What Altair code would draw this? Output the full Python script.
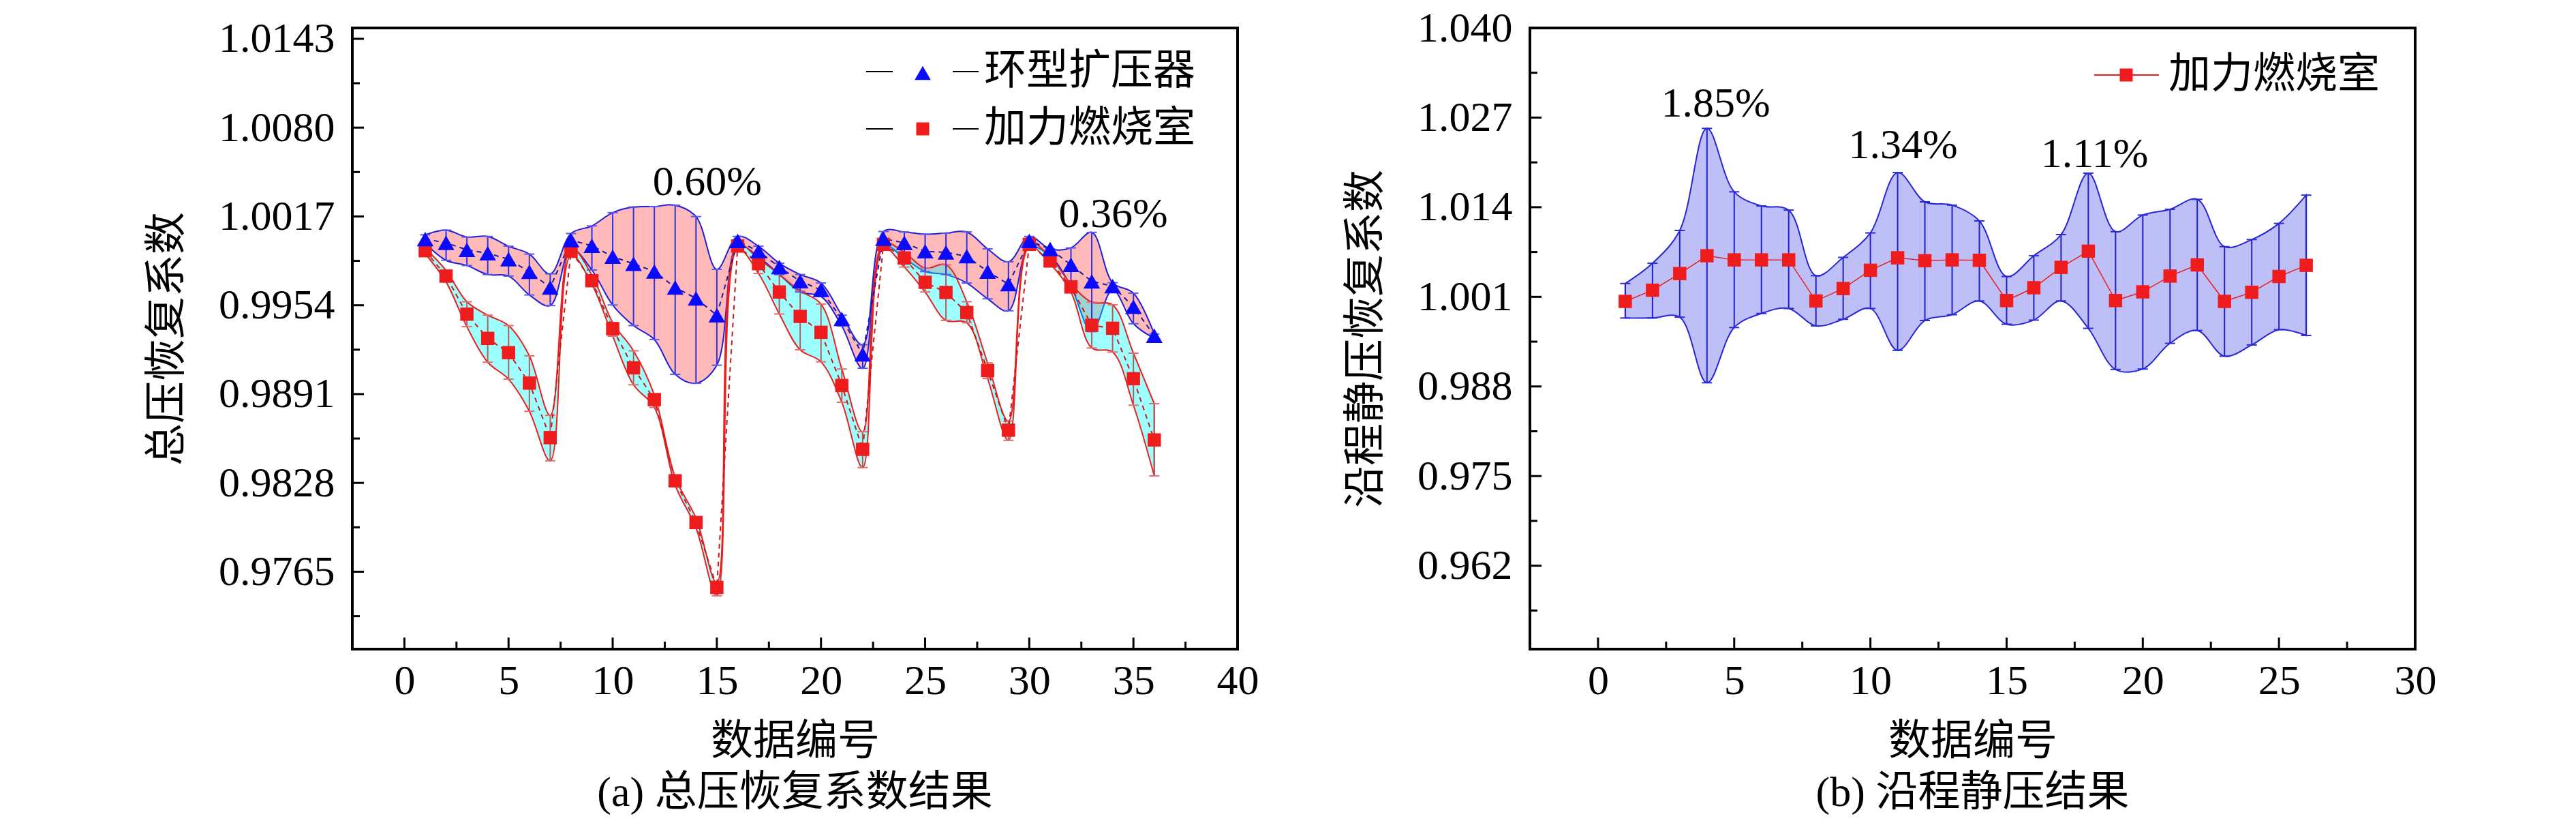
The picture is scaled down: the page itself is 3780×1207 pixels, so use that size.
import altair as alt
import pandas as pd

FONT = "Liberation Serif, Times New Roman, Noto Sans CJK SC"
FS = 62
W, H = 1299, 911

# ---- panel (a): total pressure recovery ----
idx_a = list(range(1, 37))
diffuser = [1.0001, 0.99983, 0.99933, 0.99909, 0.99867, 0.99777, 0.99666,
            1.00002, 0.99962, 0.99885, 0.99834, 0.99780, 0.99666, 0.99589, 0.99469,
            0.99996, 0.99923, 0.99811, 0.99711, 0.99649, 0.99443, 0.99192,
            1.00012, 0.99983, 0.99923, 0.99915, 0.99888, 0.99779, 0.99690,
            0.99996, 0.99939, 0.99827, 0.99710, 0.99676, 0.99530, 0.99324]
diffuser_hi = [1.0004, 1.00073, 1.00024, 1.00028, 0.99959, 0.99903, 0.99763,
               1.00049, 1.00103, 1.00197, 1.00237, 1.00240, 1.00250, 1.00169, 0.99795,
               1.00028, 0.99959, 0.99838, 0.99758, 0.99698, 0.99469, 0.99260,
               1.00063, 1.00060, 1.00044, 1.00052, 1.00060, 0.99940, 0.99848,
               1.00028, 0.99940, 0.99947, 1.00057, 0.99700, 0.99626, 0.99337]
diffuser_lo = [0.9998, 0.99859, 0.99822, 0.99758, 0.99747, 0.99613, 0.99538,
               0.99940, 0.99790, 0.99542, 0.99396, 0.99297, 0.99050, 0.98987, 0.99115,
               0.99964, 0.99883, 0.99758, 0.99634, 0.99602, 0.99393, 0.99093,
               0.99963, 0.99875, 0.99779, 0.99758, 0.99698, 0.99586, 0.99501,
               0.99955, 0.99890, 0.99674, 0.99353, 0.99650, 0.99409, 0.99305]
burner = [0.99927, 0.99747, 0.99477, 0.99305, 0.99204, 0.98988, 0.98601,
          0.99923, 0.99714, 0.99374, 0.99096, 0.98871, 0.98295, 0.97999, 0.97539,
          0.99960, 0.99835, 0.99634, 0.99461, 0.99348, 0.98971, 0.98518,
          0.99972, 0.99875, 0.99703, 0.99631, 0.99488, 0.99077, 0.98654,
          0.99972, 0.99854, 0.99670, 0.99398, 0.99377, 0.99019, 0.98585]
burner_hi = [0.99945, 0.99787, 0.99565, 0.99470, 0.99396, 0.99181, 0.98759,
             0.99945, 0.99755, 0.99417, 0.99217, 0.98903, 0.98320, 0.98030, 0.97570,
             0.99972, 0.99870, 0.99758, 0.99642, 0.99549, 0.99088, 0.98643,
             0.99980, 0.99915, 0.99803, 0.99827, 0.99565, 0.99131, 0.98718,
             0.99983, 0.99883, 0.99690, 0.99562, 0.99543, 0.99200, 0.98842]
burner_lo = [0.99905, 0.99706, 0.99388, 0.99136, 0.99016, 0.98788, 0.98437,
             0.99896, 0.99690, 0.99321, 0.98976, 0.98815, 0.98265, 0.97960, 0.97480,
             0.99940, 0.99766, 0.99478, 0.99224, 0.99139, 0.98852, 0.98389,
             0.99948, 0.99811, 0.99634, 0.99433, 0.99416, 0.99020, 0.98582,
             0.99955, 0.99835, 0.99634, 0.99237, 0.99208, 0.98831, 0.98330]

# ---- panel (b): static pressure along the afterburner ----
idx_b = list(range(1, 27))
static = [1.00034, 1.00196, 1.00437, 1.00696, 1.00636, 1.00636, 1.00636,
          1.0004, 1.0022, 1.00485, 1.00666, 1.00624, 1.00636, 1.0063,
          1.00046, 1.00232, 1.00527, 1.00762, 1.00046, 1.00172, 1.00401,
          1.00563, 1.00034, 1.00166, 1.00395, 1.00557]
static_hi = [1.00293, 1.00587, 1.01063, 1.02543, 1.01623, 1.01418, 1.01358,
             1.00407, 1.00672, 1.01027, 1.01902, 1.01478, 1.0143, 1.01201,
             1.00395, 1.00696, 1.01003, 1.01894, 1.01045, 1.01286, 1.0137,
             1.01514, 1.00828, 1.00931, 1.01165, 1.01575]
static_lo = [0.99793, 0.99793, 0.99805, 0.98854, 0.99655, 0.99859, 0.99931,
             0.99679, 0.99775, 0.99931, 0.99324, 0.99757, 0.99841, 1.0004,
             0.99703, 0.99763, 1.0004, 0.99643, 0.99047, 0.99053, 0.99426,
             0.99612, 0.99239, 0.99402, 0.99624, 0.9954]

# tick values and labels
yticks_a = [0.9765, 0.9828, 0.9891, 0.9954, 1.0017, 1.0080, 1.0143]
yticks_b = [0.962, 0.975, 0.988, 1.001, 1.014, 1.027, 1.040]
xticks_a = [0, 5, 10, 15, 20, 25, 30, 35, 40]
xticks_b = [0, 5, 10, 15, 20, 25, 30]

notes_a = ["0.60%", "0.36%"]
notes_a_x = [14.54, 34.03]
notes_a_y = [1.00414, 1.00189]
notes_b = ["1.85%", "1.34%", "1.11%"]
notes_b_x = [4.32, 11.2, 18.23]
notes_b_y = [1.02905, 1.02303, 1.0217]

legend_a = ["环型扩压器", "加力燃烧室"]
legend_b = ["加力燃烧室"]


def minors(ticks, lo, hi):
    step = ticks[1] - ticks[0]
    out = [t + step / 2 for t in ticks] + [ticks[0] - step / 2]
    return [v for v in out if lo < v < hi]


class Panel:
    """shared scales and axes for all layers of one panel"""

    def __init__(self, xdom, ydom, xt, yt, yfmt, ytitle):
        self.xdom, self.ydom, self.xt, self.yt = xdom, ydom, xt, yt
        self.xs = alt.Scale(domain=xdom, nice=False, zero=False)
        self.ys = alt.Scale(domain=ydom, nice=False, zero=False)
        self.ax = alt.Axis(values=xt, format="d", title="数据编号", labelPadding=16, titlePadding=28)
        self.ay = alt.Axis(values=yt, format=yfmt, title=ytitle, labelPadding=26, titlePadding=43)

    def X(self, f):
        return alt.X(f, type="quantitative", scale=self.xs, axis=self.ax)

    def Y(self, f):
        return alt.Y(f, type="quantitative", scale=self.ys, axis=self.ay)

    def frame_ticks(self):
        """inward ticks on the left and bottom edges"""
        layers = []
        for vals, size in [(self.yt, 17), (minors(self.yt, *self.ydom), 11)]:
            layers.append(alt.Chart(pd.DataFrame({"v": vals})).mark_rule(color="black", strokeWidth=3).encode(
                y=self.Y("v"), x=alt.value(0), x2=alt.value(size)))
        for vals, size in [(self.xt, 17), (minors(self.xt, *self.xdom), 11)]:
            layers.append(alt.Chart(pd.DataFrame({"v": vals})).mark_rule(color="black", strokeWidth=3).encode(
                x=self.X("v"), y=alt.value(H), y2=alt.value(H - size)))
        return layers

    def errors(self, df, hi, lo, bar_color, cap_color):
        base = alt.Chart(df)
        bars = base.mark_rule(color=bar_color, strokeWidth=2).encode(
            x=self.X("n"), y=self.Y(lo), y2=alt.Y2(hi))
        caps = [base.mark_point(shape="M-1,0L1,0", size=225, filled=False, stroke=cap_color,
                                strokeWidth=2, opacity=1).encode(x=self.X("n"), y=self.Y(f))
                for f in (hi, lo)]
        return [bars] + caps

    def notes(self, labels, x, y):
        df = pd.DataFrame({"label": labels, "x": x, "y": y})
        return alt.Chart(df).mark_text(font=FONT, fontSize=FS, color="black").encode(
            x=self.X("x"), y=self.Y("y"), text="label:N")


def legend_text(label, x, y):
    return alt.Chart(pd.DataFrame({"t": [label]})).mark_text(
        font=FONT, fontSize=FS, align="left", baseline="middle", color="black").encode(
        x=alt.value(x), y=alt.value(y), text="t:N")


def legend_rule(x1, x2, y, color, width):
    return alt.Chart(pd.DataFrame({"t": [0]})).mark_rule(color=color, strokeWidth=width).encode(
        x=alt.value(x1), x2=alt.value(x2), y=alt.value(y))


def legend_marker(x, y, shape, color, size):
    return alt.Chart(pd.DataFrame({"t": [0]})).mark_point(
        shape=shape, filled=True, color=color, size=size, opacity=1).encode(x=alt.value(x), y=alt.value(y))


# ---------------- panel (a) ----------------
pa = Panel([-2.5, 40], [0.97101, 1.01507], xticks_a, yticks_a, ".4f", "总压恢复系数")
df_a = pd.DataFrame({"n": idx_a, "blue": diffuser, "blue_hi": diffuser_hi, "blue_lo": diffuser_lo,
                     "red": burner, "red_hi": burner_hi, "red_lo": burner_lo})
base_a = alt.Chart(df_a)

pink = base_a.mark_area(interpolate="catmull-rom", fill="#ff7f7f", fillOpacity=0.55,
                        stroke="#1f1fd8", strokeWidth=2).encode(
    x=pa.X("n"), y=pa.Y("blue_lo"), y2=alt.Y2("blue_hi"))
cyan = base_a.mark_area(interpolate="catmull-rom", fill="#00ffff", fillOpacity=0.38,
                        stroke="#e82020", strokeWidth=2).encode(
    x=pa.X("n"), y=pa.Y("red_lo"), y2=alt.Y2("red_hi"))
red_line = base_a.mark_line(color="#c81818", strokeWidth=2, strokeDash=[7, 6]).encode(
    x=pa.X("n"), y=pa.Y("red"))
blue_line = base_a.mark_line(color="#1a1aa0", strokeWidth=2, strokeDash=[7, 6]).encode(
    x=pa.X("n"), y=pa.Y("blue"))
red_pts = base_a.mark_point(shape="square", filled=True, color="#ee1c1c", size=380, opacity=1).encode(
    x=pa.X("n"), y=pa.Y("red"))
blue_pts = base_a.mark_point(shape="triangle-up", filled=True, color="#0a0aff", size=600, opacity=1).encode(
    x=pa.X("n"), y=pa.Y("blue"))

leg_a = [
    legend_rule(754, 793, 64, "black", 2), legend_rule(881, 919, 64, "black", 2),
    legend_marker(837, 66, "triangle-up", "#0a0aff", 560), legend_text(legend_a[0], 927, 64),
    legend_rule(754, 793, 148, "black", 2), legend_rule(881, 919, 148, "black", 2),
    legend_marker(837, 148, "square", "#ee1c1c", 361), legend_text(legend_a[1], 927, 148),
]

panel_a = alt.layer(
    pink, cyan,
    *pa.errors(df_a, "red_hi", "red_lo", "#b85a5a", "#e86a6a"),
    *pa.errors(df_a, "blue_hi", "blue_lo", "#3030e0", "#5a5aee"),
    red_line, blue_line, red_pts, blue_pts,
    pa.notes(notes_a, notes_a_x, notes_a_y),
    *pa.frame_ticks(),
    *leg_a,
).properties(width=W, height=H, title=alt.TitleParams(
    "(a) 总压恢复系数结果", orient="bottom", anchor="middle", offset=15))

# ---------------- panel (b) ----------------
pb = Panel([-2.5, 30], [0.9499, 1.040], xticks_b, yticks_b, ".3f", "沿程静压恢复系数")
df_b = pd.DataFrame({"n": idx_b, "v": static, "hi": static_hi, "lo": static_lo})
base_b = alt.Chart(df_b)

band_b = base_b.mark_area(interpolate="catmull-rom", fill="#bfbff8", fillOpacity=1,
                          stroke="#2626d9", strokeWidth=2).encode(
    x=pb.X("n"), y=pb.Y("lo"), y2=alt.Y2("hi"))
line_b = base_b.mark_line(color="#e82020", strokeWidth=1.5).encode(x=pb.X("n"), y=pb.Y("v"))
pts_b = base_b.mark_point(shape="square", filled=True, color="#ee1c1c", size=380, opacity=1).encode(
    x=pb.X("n"), y=pb.Y("v"))

leg_b = [
    legend_rule(828, 923, 69, "#e82020", 2),
    legend_marker(875, 69, "square", "#ee1c1c", 361),
    legend_text(legend_b[0], 937, 69),
]

panel_b = alt.layer(
    band_b,
    *pb.errors(df_b, "hi", "lo", "#2020c8", "#2a2ad8"),
    line_b, pts_b,
    pb.notes(notes_b, notes_b_x, notes_b_y),
    *pb.frame_ticks(),
    *leg_b,
).properties(width=W, height=H, title=alt.TitleParams(
    "(b) 沿程静压结果", orient="bottom", anchor="middle", offset=15))

chart = alt.hconcat(panel_a, panel_b, spacing=122).properties(
    padding={"left": 204, "top": 0, "right": 10, "bottom": 10}
).configure_view(
    stroke="black", strokeWidth=4
).configure_axis(
    labelFont=FONT, labelFontSize=FS, labelColor="black", labelFlush=False, labelOverlap=False,
    titleFont=FONT, titleFontSize=FS, titleFontWeight="normal", titleColor="black",
    ticks=False, domain=False, grid=False
).configure_title(
    font=FONT, fontSize=FS, fontWeight="normal", color="black"
)

chart.save("out.html", embed_options={"renderer": "svg", "actions": False})
